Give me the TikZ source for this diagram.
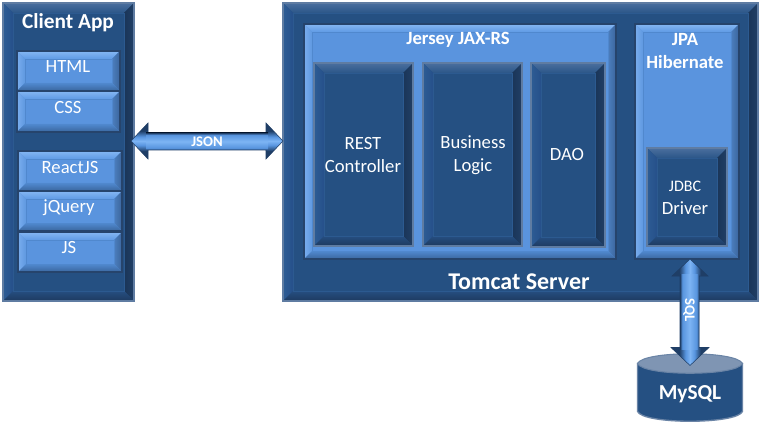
\documentclass[tikz,border=0pt]{standalone}
\usepackage{fontspec}
\setmainfont{Carlito}
\usetikzlibrary{calc}
\definecolor{dkFace}{HTML}{255082}
\definecolor{dkTopA}{HTML}{4A6F9E}
\definecolor{dkTopB}{HTML}{2B5688}
\definecolor{dkLeftA}{HTML}{2D5C94}
\definecolor{dkLeftB}{HTML}{26508A}
\definecolor{dkRightA}{HTML}{1A3558}
\definecolor{dkRightB}{HTML}{213F66}
\definecolor{dkBotA}{HTML}{264E80}
\definecolor{dkBotB}{HTML}{1D3A60}
\definecolor{dkEdge}{HTML}{5F7CA2}
\definecolor{dkInner}{HTML}{2C5A90}
\definecolor{ltFace}{HTML}{5A94DE}
\definecolor{ltTopA}{HTML}{85B7F3}
\definecolor{ltTopB}{HTML}{5F9AE4}
\definecolor{ltLeftA}{HTML}{78ADEE}
\definecolor{ltLeftB}{HTML}{5F98E0}
\definecolor{ltRightA}{HTML}{4C7EBE}
\definecolor{ltRightB}{HTML}{3A659C}
\definecolor{ltBotA}{HTML}{5089CF}
\definecolor{ltBotB}{HTML}{3A669E}
\definecolor{ltEdge}{HTML}{26446C}
\definecolor{ltInner}{HTML}{5088CE}
\definecolor{arrDark}{HTML}{1F3E66}
\definecolor{arrMid}{HTML}{5794DE}
\definecolor{arrLight}{HTML}{7DB4F4}
\definecolor{cylTop}{HTML}{7F95B3}
\definecolor{cylEdge}{HTML}{6A84A6}
\pgfdeclareverticalshading{shaftshade}{100bp}{color(0bp)=(arrDark); color(25bp)=(arrDark); color(31bp)=(arrMid); color(50bp)=(arrLight); color(69bp)=(arrMid); color(75bp)=(arrDark); color(100bp)=(arrDark)}
\pgfdeclareverticalshading{headshade}{100bp}{color(0bp)=(arrDark); color(36bp)=(arrDark); color(44bp)=(arrMid); color(50bp)=(arrLight); color(56bp)=(arrMid); color(64bp)=(arrDark); color(100bp)=(arrDark)}
\tikzset{
  bvnode/.style={rectangle,inner sep=0pt,outer sep=0pt},
  lbl/.style={text=white,align=center,inner sep=0pt,font=\fontsize{14}{17.25}\selectfont},
  blbl/.style={text=white,align=center,inner sep=0pt,font=\fontsize{14}{17.25}\selectfont\bfseries},
  arrowbody/.style={draw=arrDark,line width=0.4pt,shading=headshade},
  arrowshaftH/.style={shading=shaftshade},
  arrowshaftV/.style={shading=shaftshade,shading angle=90},
  arrowbodyV/.style={draw=arrDark,line width=0.4pt,shading=headshade,shading angle=90}
}
% name, x1, y1, x2, y2, bevel depth, kind (dk or lt)
\newcommand{\bvbox}[7]{%
  \node[bvnode,fill=#7Face,minimum width={(#4-#2)*0.75pt},minimum height={(#5-#3)*0.75pt}] (#1) at ({(#2+#4)/2},{(#3+#5)/2}) {};
  \coordinate (#1a) at (#1.north west);
  \coordinate (#1b) at (#1.north east);
  \coordinate (#1c) at (#1.south east);
  \coordinate (#1d) at (#1.south west);
  \coordinate (#1A) at ([shift={(#6,#6)}]#1.north west);
  \coordinate (#1B) at ([shift={(-#6,#6)}]#1.north east);
  \coordinate (#1C) at ([shift={(-#6,-#6)}]#1.south east);
  \coordinate (#1D) at ([shift={(#6,-#6)}]#1.south west);
  \path[top color=#7TopA,bottom color=#7TopB] (#1a)--(#1b)--(#1B)--(#1A)--cycle;
  \path[left color=#7LeftA,right color=#7LeftB] (#1a)--(#1A)--(#1D)--(#1d)--cycle;
  \path[left color=#7RightA,right color=#7RightB] (#1b)--(#1c)--(#1C)--(#1B)--cycle;
  \path[top color=#7BotA,bottom color=#7BotB] (#1d)--(#1D)--(#1C)--(#1c)--cycle;
  \draw[#7Inner,line width=0.5pt] (#1A) rectangle (#1C);
  \draw[#7Edge,line width=1pt] (#1a) rectangle (#1c);
}
\begin{document}
\begin{tikzpicture}[x=0.75pt,y=-0.75pt]
\useasboundingbox (0,0) rectangle (760,424);
\fill[white] (0,0) rectangle (760,424);
% Client App
\bvbox{client}{3}{3}{134}{301}{10}{dk}
\bvbox{html}{17}{51}{120}{91}{8}{lt}
\bvbox{css}{17}{91}{120}{132}{8}{lt}
\bvbox{react}{18}{151}{122}{191}{8}{lt}
\bvbox{jquery}{18}{191}{122}{231}{8}{lt}
\bvbox{js}{18}{232}{122}{272}{8}{lt}
% Tomcat
\bvbox{tomcat}{283}{3}{758}{301}{10}{dk}
\bvbox{jersey}{304}{24}{616}{259}{8}{lt}
\bvbox{jpa}{635}{24}{739}{259}{8}{lt}
\bvbox{rest}{314}{63}{413}{246}{10}{dk}
\bvbox{logic}{423}{63}{522}{246}{10}{dk}
\bvbox{dao}{531}{63}{605}{247}{10}{dk}
\bvbox{jdbc}{647}{148}{727}{246}{10}{dk}
% MySQL cylinder
\node[bvnode,minimum width={105*0.75pt},minimum height={68*0.75pt}] (mysql) at (690,387.5) {};
\coordinate (cylL) at ($(mysql.north west)+(0,10)$);
\coordinate (cylR) at ($(mysql.north east)+(0,10)$);
\coordinate (cylBL) at ($(mysql.south west)+(0,-10)$);
\coordinate (cylBR) at ($(mysql.south east)+(0,-10)$);
\draw[cylEdge,line width=1pt,fill=dkFace] (cylL) -- (cylBL)
  .. controls ($(cylBL)+(6,13)$) and ($(cylBR)+(-6,13)$) .. (cylBR) -- (cylR) -- cycle;
\draw[cylEdge,line width=0.8pt,fill=cylTop] (cylL)
  .. controls ($(cylL)+(6,-13)$) and ($(cylR)+(-6,-13)$) .. (cylR)
  .. controls ($(cylR)+(-6,13)$) and ($(cylL)+(6,13)$) .. (cylL) -- cycle;
% JSON connector
\coordinate (jsonL) at ($(client.north east)+(-3,138)$);
\coordinate (jsonR) at ($(tomcat.north west)+(0,138)$);
\draw[arrowbody] (jsonL) -- ($(jsonL)+(17,-18)$) -- ($(jsonL)+(17,-8)$) -- ($(jsonR)+(-17,-8)$)
  -- ($(jsonR)+(-17,-18)$) -- (jsonR) -- ($(jsonR)+(-17,18)$) -- ($(jsonR)+(-17,9)$)
  -- ($(jsonL)+(17,9)$) -- ($(jsonL)+(17,18)$) -- cycle;
\path[arrowshaftH] ($(jsonL)+(15,-8)$) rectangle ($(jsonR)+(-15,9)$);
% SQL connector
\coordinate (sqlT) at ($(jpa.south)+(3,0)$);
\coordinate (sqlB) at ($(mysql.north)+(0,12)$);
\draw[arrowbodyV] (sqlT) -- ($(sqlT)+(18,17)$) -- ($(sqlT)+(9,17)$) -- ($(sqlB)+(9,-18)$)
  -- ($(sqlB)+(19,-18)$) -- (sqlB) -- ($(sqlB)+(-19,-18)$) -- ($(sqlB)+(-10,-18)$)
  -- ($(sqlT)+(-10,17)$) -- ($(sqlT)+(-18,17)$) -- cycle;
\path[arrowshaftV] ($(sqlT)+(-10,15)$) rectangle ($(sqlB)+(9,-16)$);
% Labels
\node[blbl,font=\fontsize{16}{19}\selectfont\bfseries] (clientlbl) at (68,23) {Client App};
\node[lbl] (htmllbl) at (68,67) {HTML};
\node[lbl] (csslbl) at (68,108) {CSS};
\node[lbl] (reactlbl) at (70,168) {ReactJS};
\node[lbl] (jquerylbl) at (69,208) {jQuery};
\node[lbl] (jslbl) at (69,248) {JS};
\node[blbl] (jerseylbl) at (458,40) {Jersey JAX-RS};
\node[lbl] (restlbl) at (363,155) {REST\\Controller};
\node[lbl] (logiclbl) at (473,155) {Business\\Logic};
\node[lbl] (daolbl) at (567,155) {DAO};
\node[blbl] (jpalbl) at (685,51) {JPA\\Hibernate};
\node[lbl,font=\fontsize{12}{12}\selectfont] (jdbclbl) at (685,186) {JDBC};
\node[lbl] (driverlbl) at (685,208) {Driver};
\node[blbl,font=\fontsize{18}{20}\selectfont\bfseries] (tomcatlbl) at (519,282) {Tomcat Server};
\node[blbl,font=\fontsize{16}{19}\selectfont\bfseries] (mysqllbl) at (690,394) {MySQL};
\node[blbl,font=\fontsize{11}{13}\selectfont\bfseries] (jsonlbl) at (207,142) {JSON};
\node[blbl,font=\fontsize{11}{13}\selectfont\bfseries,rotate=-90] (sqllbl) at (689,310) {SQL};
\end{tikzpicture}
\end{document}
